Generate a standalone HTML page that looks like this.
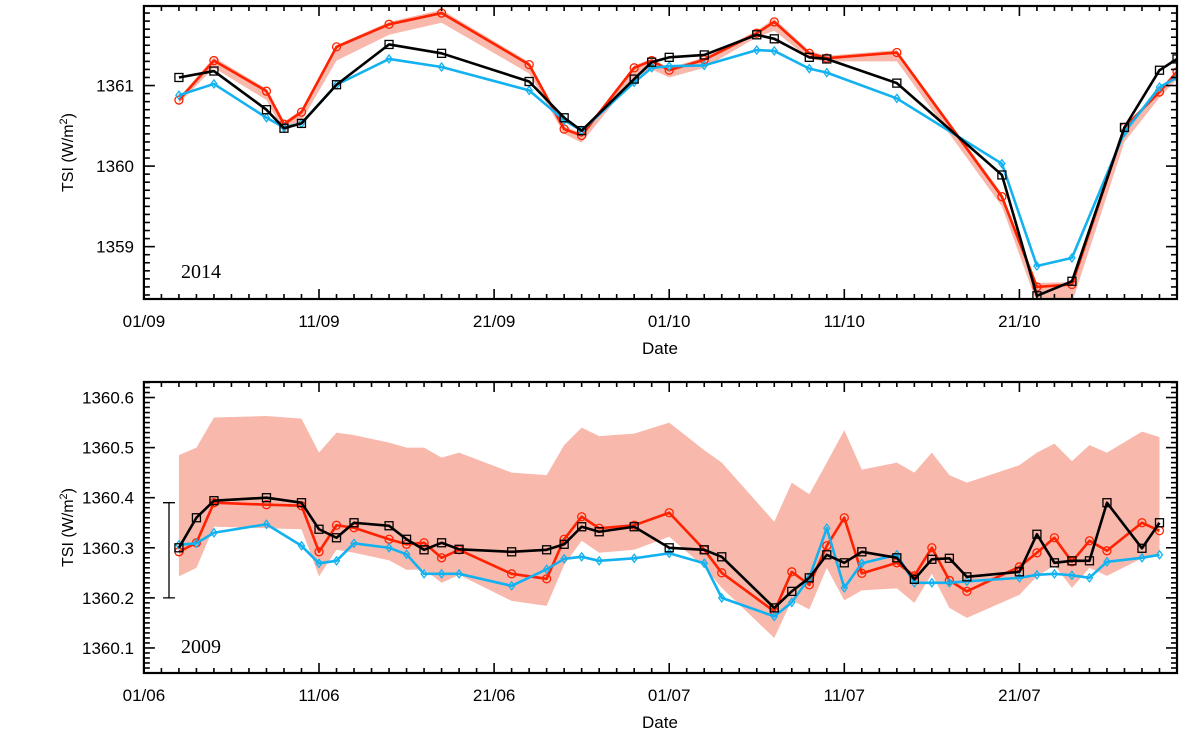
<!DOCTYPE html>
<html><head><meta charset="utf-8"><style>
body{margin:0;background:#fff}
svg{display:block}
text{font-family:"Liberation Sans",sans-serif;fill:#000}
</style></head><body>
<svg id="chart" width="1200" height="749" viewBox="0 0 1200 749" xmlns="http://www.w3.org/2000/svg"></svg>
<script>
// ---- 2014 panel data (days since 01/09) ----
const topDays=[2,4,7,8,9,11,14,17,22,24,25,28,29,30,32,35,36,38,39,43,49,51,53,56,58,59];
const topBlack=[1361.10,1361.18,1360.70,1360.47,1360.53,1361.01,1361.51,1361.40,1361.05,1360.60,1360.44,1361.08,1361.29,1361.35,1361.38,1361.63,1361.58,1361.35,1361.33,1361.03,1359.89,1358.39,1358.57,1360.48,1361.19,1361.33];
const topRed=[1360.82,1361.31,1360.93,1360.52,1360.67,1361.48,1361.76,1361.90,1361.26,1360.46,1360.38,1361.22,1361.31,1361.19,1361.32,1361.65,1361.79,1361.40,1361.34,1361.41,1359.62,1358.50,1358.53,1360.48,1360.92,1361.17];
const topBlue=[1360.88,1361.02,1360.60,1360.48,1360.53,1361.01,1361.33,1361.23,1360.94,1360.57,1360.44,1361.04,1361.22,1361.24,1361.25,1361.44,1361.43,1361.21,1361.16,1360.84,1360.03,1358.76,1358.86,1360.42,1360.98,1361.10];
const topUpper=[1360.85,1361.35,1360.96,1360.55,1360.70,1361.50,1361.79,1361.94,1361.29,1360.49,1360.41,1361.25,1361.33,1361.22,1361.35,1361.68,1361.83,1361.43,1361.37,1361.44,1359.66,1358.55,1358.56,1360.50,1360.95,1361.20];
const topLower=[1360.78,1361.22,1360.82,1360.42,1360.56,1361.31,1361.63,1361.78,1361.15,1360.40,1360.29,1361.10,1361.20,1361.10,1361.22,1361.60,1361.68,1361.33,1361.30,1361.30,1359.50,1358.30,1358.30,1360.30,1360.85,1361.08];
const topYTicks=[1359,1360,1361];
const topXLabels=["01/09","11/09","21/09","01/10","11/10","21/10"];
// ---- 2009 panel data (days since 01/06) ----
const botDays=[2,3,4,7,9,10,11,12,14,15,16,17,18,21,23,24,25,26,28,30,32,33,36,37,38,39,40,41,43,44,45,46,47,50,51,52,53,54,55,57,58];
const botBlack=[1360.30,1360.36,1360.394,1360.40,1360.39,1360.337,1360.32,1360.35,1360.344,1360.317,1360.296,1360.31,1360.297,1360.292,1360.296,1360.307,1360.342,1360.332,1360.342,1360.30,1360.296,1360.282,1360.18,1360.213,1360.24,1360.286,1360.27,1360.292,1360.28,1360.237,1360.277,1360.279,1360.242,1360.252,1360.327,1360.27,1360.274,1360.274,1360.39,1360.299,1360.35];
const botRed=[1360.292,1360.31,1360.39,1360.386,1360.384,1360.292,1360.345,1360.34,1360.317,1360.307,1360.31,1360.28,1360.296,1360.248,1360.238,1360.317,1360.362,1360.339,1360.345,1360.37,1360.296,1360.25,1360.173,1360.252,1360.226,1360.304,1360.36,1360.249,1360.27,1360.244,1360.30,1360.235,1360.213,1360.262,1360.29,1360.32,1360.272,1360.314,1360.294,1360.35,1360.334];
const botBlue=[1360.306,1360.309,1360.33,1360.347,1360.304,1360.269,1360.274,1360.309,1360.30,1360.287,1360.248,1360.248,1360.248,1360.224,1360.257,1360.278,1360.282,1360.274,1360.279,1360.289,1360.269,1360.20,1360.163,1360.191,1360.24,1360.339,1360.22,1360.269,1360.286,1360.23,1360.23,1360.23,1360.233,1360.24,1360.246,1360.248,1360.245,1360.24,1360.272,1360.28,1360.286];
const botUpper=[1360.485,1360.50,1360.56,1360.563,1360.558,1360.49,1360.53,1360.525,1360.51,1360.50,1360.50,1360.48,1360.49,1360.45,1360.445,1360.505,1360.54,1360.523,1360.528,1360.55,1360.495,1360.47,1360.352,1360.43,1360.407,1360.47,1360.535,1360.456,1360.47,1360.45,1360.49,1360.445,1360.43,1360.465,1360.49,1360.508,1360.473,1360.505,1360.49,1360.532,1360.521];
const botLower=[1360.243,1360.26,1360.342,1360.339,1360.337,1360.243,1360.296,1360.29,1360.275,1360.256,1360.257,1360.23,1360.246,1360.194,1360.184,1360.266,1360.314,1360.29,1360.296,1360.322,1360.262,1360.22,1360.12,1360.195,1360.177,1360.26,1360.195,1360.215,1360.219,1360.19,1360.248,1360.18,1360.16,1360.206,1360.243,1360.265,1360.22,1360.26,1360.244,1360.279,1360.29];
const botYTicks=[1360.1,1360.2,1360.3,1360.4,1360.5,1360.6];
const botXLabels=["01/06","11/06","21/06","01/07","11/07","21/07"];

const NS="http://www.w3.org/2000/svg";
const svg=document.getElementById('chart');
function mk(tag,attrs,parent){const e=document.createElementNS(NS,tag);for(const k in attrs)e.setAttribute(k,attrs[k]);(parent||svg).appendChild(e);return e;}

function panel(cfg){
  const L=143.9,R=1177,T=cfg.top,B=cfg.bottom;
  const g=mk('g',{});
  
  
  const X=d=>L+(d-0)*(R-L)/59;
  const Y=v=>B-(v-cfg.ymin)*(B-T)/(cfg.ymax-cfg.ymin);
  const clip=mk('clipPath',{id:'clip'+cfg.id},g);
  mk('rect',{x:L,y:T,width:R-L,height:B-T},clip);
  const pg=mk('g',{'clip-path':'url(#clip'+cfg.id+')'},g);
  let pts=cfg.days.map((d,i)=>X(d)+','+Y(cfg.upper[i]));
  pts=pts.concat(cfg.days.map((d,i)=>X(d)+','+Y(cfg.lower[i])).reverse());
  const band=mk('polygon',{points:pts.join(' '),fill:'#f9b8ac',stroke:'none'},pg);
  
  
  const series=[[cfg.blue,'#12b2f0','diamond','blue-series'],[cfg.red,'#ff2200','circle','red-series'],[cfg.black,'#000','square','black-series']];
  const order=[1,0,2];
  order.forEach(si=>{
    const [vals,col,mkType,nm]=series[si];
    const sg=mk('g',{},pg);
    
    
    mk('polyline',{points:cfg.days.map((d,i)=>X(d)+','+Y(vals[i])).join(' '),fill:'none',stroke:col,'stroke-width':2.6,'stroke-linejoin':'round'},sg);
    cfg.days.forEach((d,i)=>{
      const x=X(d),y=Y(vals[i]);let m;
      if(mkType==='square')m=mk('rect',{x:x-4,y:y-4,width:8,height:8,fill:'none',stroke:col,'stroke-width':1.3},sg);
      else if(mkType==='circle')m=mk('circle',{cx:x,cy:y,r:4,fill:'none',stroke:col,'stroke-width':1.3},sg);
      else m=mk('polygon',{points:`${x},${y-4} ${x+3},${y} ${x},${y+4} ${x-3},${y}`,fill:'none',stroke:col,'stroke-width':1.3},sg);
      
      
    });
  });
  mk('rect',{x:L,y:T,width:R-L,height:B-T,fill:'none',stroke:'#000','stroke-width':2.2},g);
  for(let d=0;d<=59;d++){
    const x=X(d),len=d%10===0?10:5;
    mk('line',{x1:x,y1:B,x2:x,y2:B-len,stroke:'#000','stroke-width':1.6},g);
    mk('line',{x1:x,y1:T,x2:x,y2:T+len,stroke:'#000','stroke-width':1.6},g);
  }
  cfg.xlabels.forEach((s,i)=>{
    const t=mk('text',{x:X(i*10),y:B+28,'font-size':17,'text-anchor':'middle'},g);t.textContent=s;
    
    
  });
  const step=cfg.minor;
  const n0=Math.ceil(cfg.ymin/step-1e-6),n1=Math.floor(cfg.ymax/step+1e-6);
  for(let k=n0;k<=n1;k++){
    const v=k*step,y=Y(v);
    const major=cfg.yticks.some(t=>Math.abs(t-v)<step/2);
    const len=major?11:6;
    mk('line',{x1:L,y1:y,x2:L+len,y2:y,stroke:'#000','stroke-width':1.6},g);
    mk('line',{x1:R,y1:y,x2:R-len,y2:y,stroke:'#000','stroke-width':1.6},g);
  }
  cfg.yticks.forEach(v=>{
    const t=mk('text',{x:134,y:Y(v)+6,'font-size':17,'text-anchor':'end'},g);t.textContent=cfg.fmt(v);
    
    
  });
  const xt=mk('text',{x:660,y:B+55,'font-size':17,'text-anchor':'middle'},g);xt.textContent='Date';
  
  
  const yt=mk('text',{transform:`translate(73,${(T+B)/2}) rotate(-90)`,'font-size':16,'text-anchor':'middle'},g);
  yt.innerHTML='TSI (W/m<tspan dy="-6" font-size="11">2</tspan><tspan dy="6">)</tspan>';
  
  
  const yr=mk('text',{x:181,y:cfg.yearY,'font-size':20,style:'font-family:"Liberation Serif",serif'},g);yr.textContent=cfg.year;
  
  
  return {X,Y,g};
}
panel({id:1,name:'panel-2014',top:6,bottom:299,ymin:1358.35,ymax:1361.9875,minor:0.1,yticks:topYTicks,fmt:v=>v.toFixed(0),
  days:topDays,black:topBlack,red:topRed,blue:topBlue,upper:topUpper,lower:topLower,xlabels:topXLabels,year:'2014',yearY:278});
const p2=panel({id:2,name:'panel-2009',top:382,bottom:673,ymin:1360.05,ymax:1360.631,minor:0.01,yticks:botYTicks,fmt:v=>v.toFixed(1),
  days:botDays,black:botBlack,red:botRed,blue:botBlue,upper:botUpper,lower:botLower,xlabels:botXLabels,year:'2009',yearY:653});
const eb=mk('path',{d:`M169,${p2.Y(1360.39)} V${p2.Y(1360.2)} M163,${p2.Y(1360.39)} H175 M163,${p2.Y(1360.2)} H175`,stroke:'#000','stroke-width':1.3,fill:'none'});


</script>
</body></html>
